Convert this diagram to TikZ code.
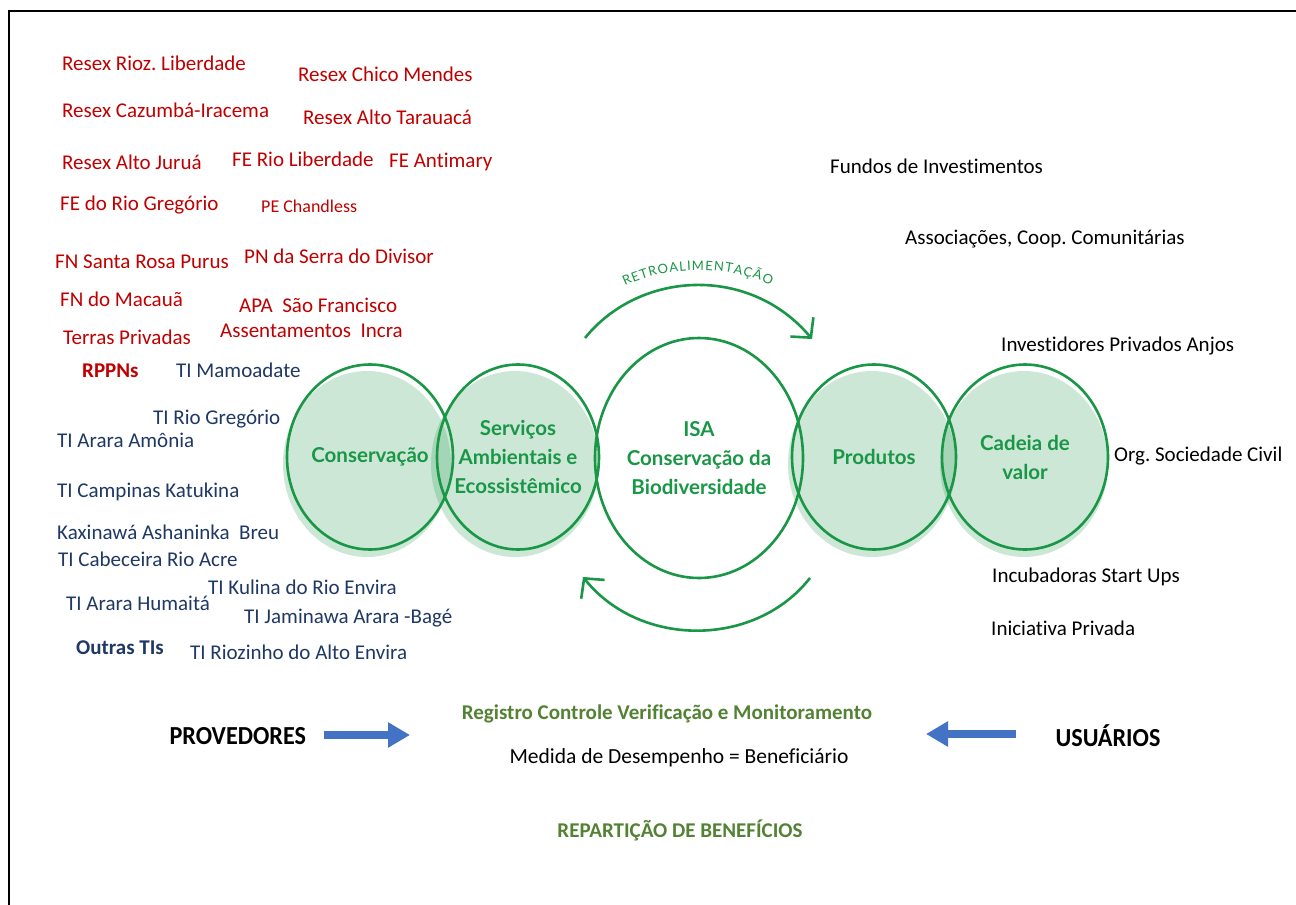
\documentclass[tikz,border=0pt]{standalone}
\usepackage{fontspec}
\setmainfont{Carlito}[Ligatures=NoCommon]
\newfontfamily\circfont{Lato}
\usetikzlibrary{arrows.meta,shapes.geometric,decorations.text}
\frenchspacing

\definecolor{ucred}{RGB}{192,0,0}
\definecolor{tiblue}{RGB}{31,56,100}
\definecolor{isagreen}{RGB}{25,150,70}
\definecolor{olivegreen}{RGB}{84,130,53}
\definecolor{arrowblue}{RGB}{68,114,196}

\newcommand{\narrowtxt}[1]{\scalebox{0.93}[1]{#1}}

\tikzset{
  uc/.style={anchor=west, text=ucred, font=\fontsize{21}{24}\selectfont, inner sep=0pt},
  ti/.style={anchor=west, text=tiblue, font=\fontsize{21}{24}\selectfont, inner sep=0pt},
  user/.style={anchor=west, text=black, font=\fontsize{21}{24}\selectfont, inner sep=0pt},
  bubble/.style={ellipse, draw=isagreen, line width=2.6pt, text=isagreen, align=center,
    font=\circfont\bfseries\fontsize{20.5}{29}\selectfont, inner sep=-14pt},
  bubblefill/.style={fill=isagreen, fill opacity=0.22},
  loop/.style={draw=isagreen, line width=2.6pt, -{Straight Barb[length=14pt,width=30pt,line width=2.6pt]}},
  bluearrow/.style={draw=arrowblue, line width=8pt, -{Triangle[length=22pt,width=24pt]}},
}

\begin{document}
\begin{tikzpicture}[x=1pt,y=-1pt]
\useasboundingbox (0,0) rectangle (1296,905);
\fill[white] (0,0) rectangle (1296,905);
% frame
\draw[line width=2.6pt] (9,905) -- (9,11) -- (1296,11);

% unidades de conservacao
\node[uc] (rioz) at (62,63) {Resex Rioz. Liberdade};
\node[uc] (chico) at (298,74) {Resex Chico Mendes};
\node[uc] (cazumba) at (62,110) {Resex Cazumbá-Iracema};
\node[uc] (tarauaca) at (303,117) {Resex Alto Tarauacá};
\node[uc] (jurua) at (62,162) {Resex Alto Juruá};
\node[uc] (feliberdade) at (232,159) {FE Rio Liberdade};
\node[uc] (antimary) at (389,162) {FE Antimary};
\node[uc] (fegregorio) at (60,205) {FE do Rio Gregório};
\node[uc, font=\fontsize{18}{21}\selectfont] (chandless) at (261,206) {PE Chandless};
\node[uc] (purus) at (55,262) {FN Santa Rosa Purus};
\node[uc] (divisor) at (244,256) {PN da Serra do Divisor};
\node[uc] (macaua) at (60,299) {FN do Macauã};
\node[uc] (apa) at (239,305) {APA\ \ São Francisco};
\node[uc] (privadas) at (63,337) {Terras Privadas};
\node[uc] (incra) at (220,331) {Assentamentos\ \ Incra};
\node[uc, font=\bfseries\fontsize{21}{24}\selectfont] (rppn) at (82,371) {RPPNs};

% terras indigenas
\node[ti] (mamoadate) at (176,370) {TI Mamoadate};
\node[ti] (tigregorio) at (153,419) {TI Rio Gregório};
\node[ti] (amonia) at (57,440) {TI Arara Amônia};
\node[ti] (katukina) at (57,492) {TI Campinas Katukina};
\node[ti] (breu) at (57,532) {Kaxinawá Ashaninka\ \ Breu};
\node[ti] (acre) at (58,559) {TI Cabeceira Rio Acre};
\node[ti] (kulina) at (208,587) {TI Kulina do Rio Envira};
\node[ti] (humaita) at (66,603) {TI Arara Humaitá};
\node[ti] (jaminawa) at (244,618) {TI Jaminawa Arara -Bagé};
\node[ti, font=\bfseries\fontsize{21}{24}\selectfont] (outras) at (76,648) {Outras TIs};
\node[ti] (riozinho) at (190,652) {TI Riozinho do Alto Envira};

% usuarios
\node[user] (fundos) at (830,166) {Fundos de Investimentos};
\node[user] (assoc) at (905,239) {Associações, Coop. Comunitárias};
\node[user] (anjos) at (1001,346) {Investidores Privados Anjos};
\node[user] (osc) at (1114,456) {Org. Sociedade Civil};
\node[user] (incub) at (992,577) {Incubadoras Start Ups};
\node[user] (iniciativa) at (991,628) {Iniciativa Privada};

% fills of the bubbles
\fill[bubblefill] (367,464) ellipse[x radius=84, y radius=93];
\fill[bubblefill] (515,464) ellipse[x radius=84, y radius=93];
\fill[bubblefill] (872,464) ellipse[x radius=84, y radius=93];
\fill[bubblefill] (1024,464) ellipse[x radius=84, y radius=93];

% bubbles
\node[bubble, minimum width=166pt, minimum height=185pt] (cons) at (370,457) {Conservação};
\node[bubble, minimum width=162pt, minimum height=185pt] (serv) at (518,457) {Serviços\\Ambientais e\\Ecossistêmico};
\node[bubble, minimum width=208pt, minimum height=240pt] (isa) at (699,458) {ISA\\Conservação da\\Biodiversidade};
\node[bubble, minimum width=164pt, minimum height=185pt] (prod) at (874,457) {Produtos};
\node[bubble, minimum width=166pt, minimum height=185pt] (cadeia) at (1025,457) {Cadeia de\\valor};

% retroalimentacao
\coordinate (topA) at (585,338);
\coordinate (topB) at (812,339);
\coordinate (botA) at (810,578);
\coordinate (botB) at (583,577);
\draw[loop] (topA) .. controls (640,270) and (750,265) .. (topB);
\draw[loop] (botA) .. controls (755,648) and (640,648) .. (botB);
\path[decorate, decoration={text along path, text align=fit to path,
  text={|\circfont\fontsize{13}{15}\selectfont\color{isagreen}|RETROALIMENTAÇÃO}}]
  (625,286) .. controls (670,265) and (725,265) .. (771,285);

% bottom
\node[anchor=west, font=\bfseries\fontsize{26}{29}\selectfont] (prov) at (166,736) {\narrowtxt{PROVEDORES}};
\node[anchor=west, font=\bfseries\fontsize{26}{29}\selectfont] (usu) at (1052,736) {\narrowtxt{USUÁRIOS}};
\coordinate (provend) at (410,735);
\coordinate (usuend) at (926,734);
\draw[bluearrow] (prov.east) ++(14,-1) coordinate (provstart) -- (provend);
\draw[bluearrow] (usu.west) ++(-36,-2) coordinate (usustart) -- (usuend);
\node[text=olivegreen, font=\bfseries\fontsize{21}{24}\selectfont] (registro) at (667,714) {Registro Controle Verificação e Monitoramento};
\node[font=\fontsize{21.5}{24}\selectfont] (medida) at (679,758) {Medida de Desempenho = Beneficiário};
\node[text=olivegreen, font=\bfseries\fontsize{21}{24}\selectfont] (repart) at (680,830) {REPARTIÇÃO DE BENEFÍCIOS};
\end{tikzpicture}
\end{document}
